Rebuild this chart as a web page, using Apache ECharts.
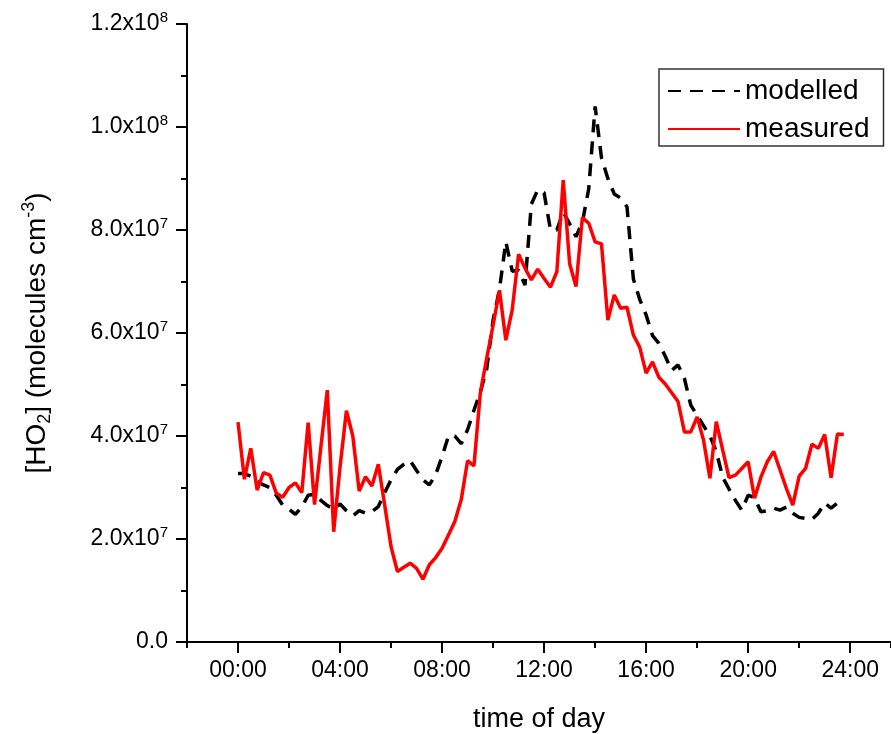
<!DOCTYPE html>
<html>
<head>
<meta charset="utf-8">
<script src="https://cdn.jsdelivr.net/npm/echarts@6/dist/echarts.min.js"></script>
<style>
html,body{margin:0;padding:0;background:#fff;}
#main{width:891px;height:734px;}
</style>
</head>
<body>
<div id="main"></div>
<script>
// time of day (hours), 15 min steps
var hours = [
  0, 0.25, 0.5, 0.75, 1, 1.25, 1.5, 1.75, 2, 2.25, 2.5, 2.75, 3, 3.25, 3.5, 3.75,
  4, 4.25, 4.5, 4.75, 5, 5.25, 5.5, 5.75, 6, 6.25, 6.5, 6.75, 7, 7.25, 7.5, 7.75,
  8, 8.25, 8.5, 8.75, 9, 9.25, 9.5, 9.75, 10, 10.25, 10.5, 10.75, 11, 11.25, 11.5, 11.75,
  12, 12.25, 12.5, 12.75, 13, 13.25, 13.5, 13.75, 14, 14.25, 14.5, 14.75, 15, 15.25, 15.5, 15.75,
  16, 16.25, 16.5, 16.75, 17, 17.25, 17.5, 17.75, 18, 18.25, 18.5, 18.75, 19, 19.25, 19.5, 19.75,
  20, 20.25, 20.5, 20.75, 21, 21.25, 21.5, 21.75, 22, 22.25, 22.5, 22.75, 23, 23.25, 23.5, 23.75
];
// [HO2] in units of 1e7 molecules cm-3
var modelled = [
  3.27, 3.27, 3.22, 3.12, 3.05, 3.00, 2.85, 2.66, 2.58, 2.48, 2.62, 2.85, 2.87, 2.75, 2.65, 2.58,
  2.68, 2.55, 2.45, 2.55, 2.50, 2.53, 2.63, 2.90, 3.15, 3.35, 3.45, 3.52, 3.33, 3.15, 3.05, 3.25,
  3.60, 4.00, 4.00, 3.85, 4.12, 4.50, 4.85, 5.30, 6.25, 6.85, 7.77, 7.20, 7.22, 6.93, 8.50, 8.78,
  8.72, 8.00, 8.00, 8.35, 8.12, 7.87, 8.15, 8.80, 10.40, 9.40, 9.00, 8.70, 8.62, 8.45, 7.05, 6.65,
  6.35, 5.95, 5.80, 5.55, 5.27, 5.38, 5.12, 4.60, 4.40, 4.20, 4.00, 3.70, 3.20, 2.97, 2.75, 2.56,
  2.85, 2.80, 2.53, 2.55, 2.60, 2.56, 2.62, 2.50, 2.42, 2.40, 2.38, 2.50, 2.70, 2.60, 2.70, 2.70
];
var measured = [
  4.27, 3.16, 3.76, 2.95, 3.29, 3.24, 2.89, 2.81, 3.00, 3.09, 2.90, 4.26, 2.67, 3.79, 4.89, 2.14,
  3.40, 4.49, 4.00, 2.93, 3.21, 3.03, 3.45, 2.66, 1.85, 1.37, 1.45, 1.53, 1.43, 1.22, 1.50, 1.64,
  1.82, 2.08, 2.34, 2.76, 3.52, 3.42, 4.84, 5.51, 6.15, 6.83, 5.86, 6.45, 7.53, 7.26, 7.03, 7.24,
  7.06, 6.89, 7.19, 8.97, 7.35, 6.90, 8.24, 8.13, 7.77, 7.73, 6.25, 6.74, 6.48, 6.50, 5.96, 5.72,
  5.22, 5.44, 5.14, 5.01, 4.84, 4.67, 4.08, 4.08, 4.37, 3.92, 3.18, 4.28, 3.73, 3.19, 3.24, 3.37,
  3.50, 2.79, 3.20, 3.50, 3.70, 3.34, 2.98, 2.66, 3.22, 3.37, 3.84, 3.76, 4.03, 3.19, 4.04, 4.03
];
var xLabelHours = [0, 4, 8, 12, 16, 20, 24];

function pairs(ys) {
  return hours.map(function (h, i) { return [h, ys[i] * 1e7]; });
}
function hhmm(h) {
  return (h < 10 ? '0' : '') + h + ':00';
}
function sci(v) {
  if (v === 0) return '0.0';
  var e = Math.floor(Math.log10(v) + 1e-9);
  var m = v / Math.pow(10, e);
  return m.toFixed(1) + 'x10{sup|' + e + '}';
}

var FONT = 'Liberation Sans, Arial, sans-serif';
var chart = echarts.init(document.getElementById('main'));

var option = {
  animation: false,
  backgroundColor: '#fff',
  grid: { left: 187, top: 24, bottom: 92, right: 0, outerBoundsMode: 'none' },
  legend: {
    left: 659, top: 69,
    orient: 'vertical',
    padding: [7, 14, 2, 8],
    itemGap: 8,
    itemWidth: 72,
    itemHeight: 14,
    borderColor: '#333',
    borderWidth: 1.5,
    backgroundColor: '#fff',
    itemStyle: { opacity: 0 },
    textStyle: { fontSize: 28, lineHeight: 30, color: '#000', fontFamily: FONT },
    data: ['modelled', 'measured']
  },
  xAxis: [{
    type: 'value',
    min: -2, max: 25.6, interval: 2,
    name: 'time of day',
    nameLocation: 'middle',
    nameGap: 64,
    nameTextStyle: { fontSize: 27, color: '#000', fontFamily: FONT },
    axisLine: { onZero: false, lineStyle: { color: '#000', width: 2 } },
    axisTick: { show: true, length: 6, lineStyle: { color: '#000', width: 2 } },
    axisLabel: {
      customValues: xLabelHours,
      formatter: hhmm,
      fontSize: 23, color: '#000', fontFamily: FONT, margin: 17
    },
    splitLine: { show: false }
  }, {
    type: 'value',
    min: -2, max: 25.6, interval: 2,
    position: 'bottom',
    axisLine: { show: false, onZero: false },
    axisTick: { show: true, customValues: xLabelHours, length: 11, lineStyle: { color: '#000', width: 2 } },
    axisLabel: { show: false },
    splitLine: { show: false }
  }],
  yAxis: {
    type: 'value',
    min: 0, max: 1.2e8, interval: 2e7,
    name: '[HO{sub|2}] (molecules cm{sup|-3})',
    nameLocation: 'middle',
    nameGap: 133,
    nameTextStyle: {
      fontSize: 28, lineHeight: 34, color: '#000', fontFamily: FONT,
      rich: {
        sub: { fontSize: 18, lineHeight: 17, verticalAlign: 'bottom', fontFamily: FONT, color: '#000' },
        sup: { fontSize: 18, lineHeight: 17, verticalAlign: 'top', fontFamily: FONT, color: '#000' }
      }
    },
    axisLine: { show: true, onZero: false, lineStyle: { color: '#000', width: 2 } },
    axisTick: { show: true, length: 11, lineStyle: { color: '#000', width: 2 } },
    minorTick: { show: true, splitNumber: 2, length: 6, lineStyle: { color: '#000', width: 2 } },
    axisLabel: {
      formatter: sci,
      fontSize: 23, lineHeight: 28, color: '#000', fontFamily: FONT, margin: 19,
      rich: {
        sup: { fontSize: 15, lineHeight: 14, verticalAlign: 'top', fontFamily: FONT, color: '#000' }
      }
    },
    splitLine: { show: false }
  },
  series: [{
    name: 'modelled',
    type: 'line',
    symbol: 'none',
    data: pairs(modelled),
    lineStyle: { color: '#000', width: 3.5, type: [13, 9] },
    itemStyle: { color: '#000' },
    z: 2
  }, {
    name: 'measured',
    type: 'line',
    symbol: 'none',
    data: pairs(measured),
    lineStyle: { color: '#ff0000', width: 3.5 },
    itemStyle: { color: '#ff0000' },
    z: 3
  }]
};

chart.setOption(option);
</script>
</body>
</html>
